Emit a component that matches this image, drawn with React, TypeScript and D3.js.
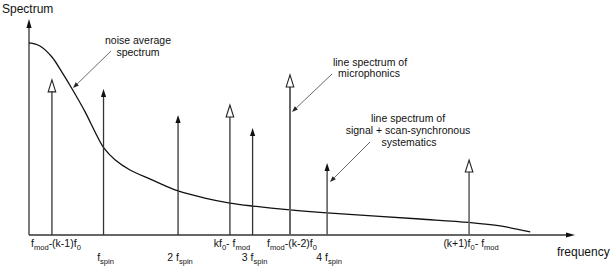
import React from "react";
import * as d3 from "d3";

// ---- data (arbitrary frequency / spectrum units) ----
const lineLabels = [
  "f_{mod}-(k-1)f_{0}",
  "f_{spin}",
  "2 f_{spin}",
  "kf_{0}- f_{mod}",
  "3 f_{spin}",
  "f_{mod}-(k-2)f_{0}",
  "4 f_{spin}",
  "(k+1)f_{0}- f_{mod}",
];
const lineFreqs = [0.42, 1.365, 2.73, 3.68, 4.095, 4.78, 5.46, 8.06];
const lineHeights = [7.18, 6.76, 5.56, 6.02, 4.95, 7.41, 3.33, 3.47];
// hollow head = microphonics line, filled = signal / scan-synchronous
const lineKinds = ["micro", "signal", "signal", "micro", "signal", "micro", "signal", "micro"];
const labelRows = [0, 1, 1, 0, 1, 0, 1, 0];

const noiseFreq = [0, 0.2, 0.42, 0.6, 0.79, 1.03, 1.21, 1.37, 1.58, 1.85, 2.22, 2.73, 3.22, 3.68, 4.1, 4.78, 5.46, 7.16, 8.06, 8.63, 9.18];
const noiseLevel = [8.89, 8.75, 8.24, 7.55, 6.76, 5.69, 4.77, 4.03, 3.47, 3.01, 2.59, 2.04, 1.71, 1.48, 1.34, 1.16, 1.02, 0.74, 0.58, 0.42, 0.14];

const W = 611;
const H = 266;
const x0 = 29, x1 = 575, yBase = 235, yTop = 19;

function parseLabel(s: string) {
  const parts: { t: string; sub: boolean }[] = [];
  const re = /_\{([^}]*)\}/g;
  let last = 0;
  let m: RegExpExecArray | null;
  while ((m = re.exec(s))) {
    if (m.index > last) parts.push({ t: s.slice(last, m.index), sub: false });
    parts.push({ t: m[1], sub: true });
    last = m.index + m[0].length;
  }
  if (last < s.length) parts.push({ t: s.slice(last), sub: false });
  return parts;
}

function RichText({ x, y, s, size, anchor }: { x: number; y: number; s: string; size: number; anchor: string }) {
  const parts = parseLabel(s);
  let state = false;
  return (
    <text x={x} y={y} fontSize={size} textAnchor={anchor} fill="#111">
      {parts.map((p, i) => {
        let dy = 0;
        if (p.sub && !state) dy = 2.5;
        if (!p.sub && state) dy = -2.5;
        state = p.sub;
        return (
          <tspan key={i} dy={dy} fontSize={p.sub ? size * 0.72 : size}>
            {p.t}
          </tspan>
        );
      })}
    </text>
  );
}

export default function App() {
  const xs = d3.scaleLinear().domain([0, 10]).range([x0, x1]);
  const ys = d3.scaleLinear().domain([0, 10]).range([yBase, yTop]);

  const noisePath = d3
    .line<number>()
    .x((_, i) => xs(noiseFreq[i]))
    .y((d) => ys(d))
    .curve(d3.curveCatmullRom.alpha(0.5))(noiseLevel) as string;

  const font = "'Liberation Sans', Arial, Helvetica, sans-serif";

  const lineStyles: Record<number, { stroke: string; w: number }> = {
    5: { stroke: "#666", w: 2 },
    6: { stroke: "#555", w: 1.5 },
    7: { stroke: "#666", w: 1.6 },
  };

  const annArrow = (xA: number, yA: number, xB: number, yB: number) => {
    const ang = Math.atan2(yB - yA, xB - xA);
    const L = 6, hw = 2.2;
    const bx = xB - L * Math.cos(ang), by = yB - L * Math.sin(ang);
    const px = -Math.sin(ang) * hw, py = Math.cos(ang) * hw;
    return (
      <g>
        <line x1={xA} y1={yA} x2={bx} y2={by} stroke="#444" strokeWidth={0.8} />
        <path d={`M${xB},${yB}L${bx + px},${by + py}L${bx - px},${by - py}Z`} fill="#222" />
      </g>
    );
  };

  return (
    <svg
      width={W}
      height={H}
      style={{ position: "absolute", left: 0, top: 0, background: "#fff" }}
      fontFamily={font}
    >
      <rect width={W} height={H} fill="#fff" />
      {/* axes */}
      <line x1={x0} y1={yBase} x2={x0} y2={yTop + 8} stroke="#333" strokeWidth={1.3} />
      <path d={`M${x0},${yTop}L${x0 - 2.6},${yTop + 9}L${x0 + 2.6},${yTop + 9}Z`} fill="#111" />
      <line x1={x0} y1={yBase} x2={x1 - 8} y2={yBase} stroke="#333" strokeWidth={1.3} />
      <path d={`M${x1},${yBase}L${x1 - 9},${yBase - 2.6}L${x1 - 9},${yBase + 2.6}Z`} fill="#111" />

      {/* noise curve */}
      <path d={noisePath} fill="none" stroke="#111" strokeWidth={1.3} />

      {/* spectral lines */}
      {lineFreqs.map((f, i) => {
        const x = xs(f);
        const yt = ys(lineHeights[i]);
        const st = lineStyles[i] || { stroke: "#333", w: 1.3 };
        if (lineKinds[i] === "micro") {
          const hh = 12, hw = 3.8;
          return (
            <g key={i}>
              <line x1={x} y1={yBase} x2={x} y2={yt + hh} stroke={st.stroke} strokeWidth={st.w} />
              <path
                d={`M${x},${yt}L${x - hw},${yt + hh}L${x + hw},${yt + hh}Z`}
                fill="#fff"
                stroke="#222"
                strokeWidth={1.1}
              />
            </g>
          );
        }
        const hh = 8, hw = 2.6;
        return (
          <g key={i}>
            <line x1={x} y1={yBase} x2={x} y2={yt + hh - 1} stroke={st.stroke} strokeWidth={st.w} />
            <path d={`M${x},${yt}L${x - hw},${yt + hh}L${x + hw},${yt + hh}Z`} fill="#111" />
          </g>
        );
      })}

      {/* tick labels */}
      {lineLabels.map((s, i) => (
        <RichText
          key={i}
          x={xs(lineFreqs[i]) + (i === 0 ? 4 : 2)}
          y={labelRows[i] === 0 ? 247 : 261}
          s={s}
          size={10.5}
          anchor="middle"
        />
      ))}

      {/* axis titles */}
      <text x={2} y={13} fontSize={12} fill="#111">Spectrum</text>
      <text x={557} y={256} fontSize={12} fill="#111">frequency</text>

      {/* annotations */}
      <g fontSize={10.5} fill="#111" textAnchor="middle">
        <text x={138} y={43.5}>noise average</text>
        <text x={138} y={55.5}>spectrum</text>
        <text x={370} y={65.5}>line spectrum of</text>
        <text x={369} y={77}>microphonics</text>
        <text x={408} y={122}>line spectrum of</text>
        <text x={408} y={134}>signal + scan-synchronous</text>
        <text x={409} y={146}>systematics</text>
      </g>
      {annArrow(111, 51, 73, 88)}
      {annArrow(332, 74, 292, 112)}
      {annArrow(370, 142, 330, 182)}
    </svg>
  );
}
